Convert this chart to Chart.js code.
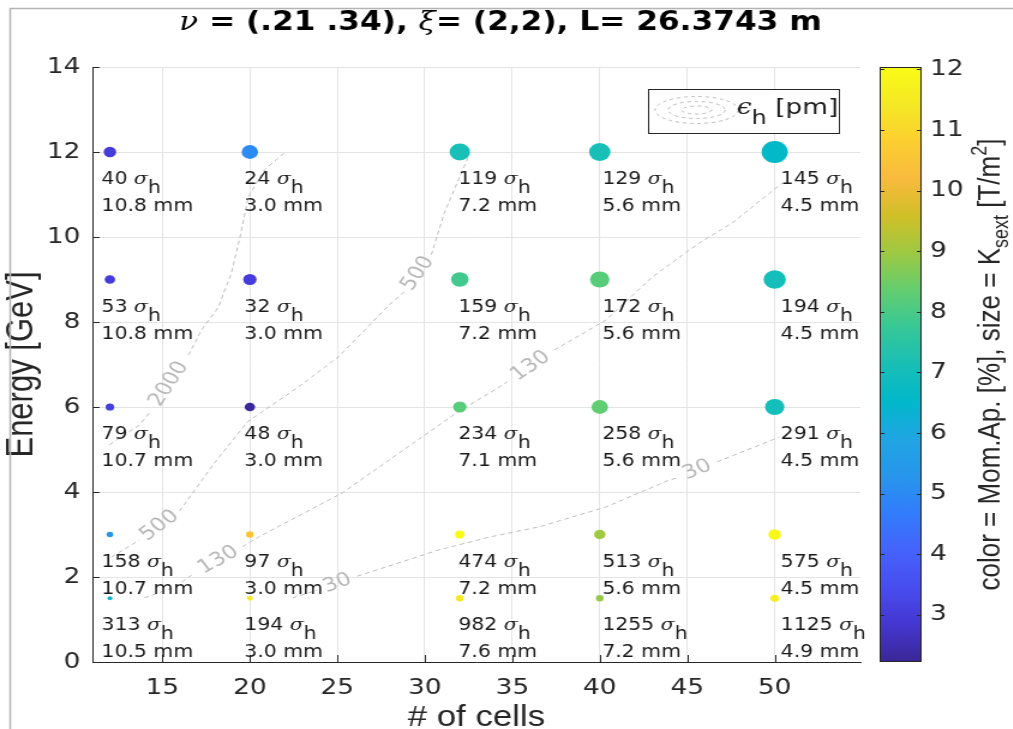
<!DOCTYPE html>
<html>
<head>
<meta charset="utf-8">
<script src="https://cdn.jsdelivr.net/npm/chart.js@4.4.1/dist/chart.umd.min.js"></script>
<style>
  html, body { margin: 0; padding: 0; background: #fff; overflow: hidden; }
  /* the reference figure is stretched sideways, so draw narrow and stretch */
  #wrap { width: 844px; height: 729px; transform: scaleX(1.2); transform-origin: 0 0; }
</style>
</head>
<body>
<div id="wrap"><canvas id="scan_chart"></canvas></div>
<script>
const cells = [12, 20, 32, 40, 50];
const energies = [12, 9, 6, 3, 1.5];

// rows follow energies, columns follow cells
const sigmaH = [
  [40, 24, 119, 129, 145],
  [53, 32, 159, 172, 194],
  [79, 48, 234, 258, 291],
  [158, 97, 474, 513, 575],
  [313, 194, 982, 1255, 1125],
];
const apertureMm = [
  [10.8, 3.0, 7.2, 5.6, 4.5],
  [10.8, 3.0, 7.2, 5.6, 4.5],
  [10.7, 3.0, 7.1, 5.6, 4.5],
  [10.7, 3.0, 7.2, 5.6, 4.5],
  [10.5, 3.0, 7.6, 7.2, 4.9],
];
// momentum aperture [%]
const momAperture = [
  [3.0, 5.0, 7.1, 7.1, 6.6],
  [3.0, 3.0, 7.9, 8.2, 7.0],
  [3.1, 2.3, 8.2, 8.3, 7.0],
  [5.4, 10.5, 12.0, 9.0, 11.9],
  [6.4, 11.4, 11.4, 8.9, 11.6],
];
// sextupole strength, relative (largest = 100)
const kSextRel = [
  [23, 40, 61, 67, 100],
  [16, 26, 45, 55, 73],
  [11, 16, 26, 40, 55],
  [6.6, 8.6, 13, 19, 23],
  [3.4, 4.9, 8.6, 8.6, 11],
];

const xTicks = [15, 20, 25, 30, 35, 40, 45, 50];
const yTicks = [0, 2, 4, 6, 8, 10, 12, 14];
const cbTicks = [3, 4, 5, 6, 7, 8, 9, 10, 11, 12];
const cbRange = [2.22, 12.04];

// emittance contours [pm], [cells, GeV]; null = gap where the level label sits
const contourLevels = [2000, 500, 130, 30];
const contour2000 = [[11.97, 5.11], [13.69, 5.58], [14.26, 5.86], null, [16.49, 7.22], [17.23, 7.81],
  [18.2, 8.35], [18.94, 9.15], [19.4, 9.93], [19.91, 10.94], [20.83, 11.58], [21.97, 11.98]];
const contour500 = [[12.09, 2.47], [13.69, 2.87], null, [15.97, 3.55], [17.97, 4.68], [19.86, 5.65],
  [22.77, 6.47], [25.06, 7.18], [28.09, 8.45], [28.83, 8.71], null, [30.37, 9.58], [31.11, 10.56],
  [32.09, 11.51], [32.54, 11.93]];
const contour130 = [[13.97, 1.51], [15.69, 1.76], [16.83, 2.09], null, [19.57, 2.71], [20.49, 2.94],
  [25.29, 3.98], [28.54, 4.92], [31.8, 5.86], [34.26, 6.47], [34.71, 6.59], null, [37.4, 7.34],
  [40.37, 8.05], [43.0, 9.06], [45.69, 9.86], [47.57, 10.33], [50.43, 11.27]];
const contour30 = [[22.43, 1.51], [23.86, 1.69], null, [26.14, 2.02], [30.83, 2.64], [33.69, 2.94],
  [36.54, 3.18], [40.37, 3.65], [43.97, 4.28], [44.43, 4.33], null, [46.71, 4.71], [50.26, 5.29]];
const contourLines = [contour2000, contour500, contour130, contour30];

const INK = "#262626";
const SANS = '"DejaVu Sans", sans-serif';
const LABEL_FONT = '"Liberation Sans", Arial, sans-serif';

// parula, 17 evenly spaced stops
const parula = [
  [58, 40, 150], [68, 54, 208], [72, 77, 240], [69, 99, 252], [50, 124, 252], [39, 150, 235],
  [32, 165, 227], [1, 184, 202], [25, 191, 182], [55, 200, 151], [100, 205, 111], [157, 201, 67],
  [209, 191, 39], [248, 186, 61], [252, 207, 48], [245, 233, 36], [249, 251, 21],
];

const parulaAt = (v) => {
  let t = (v - cbRange[0]) / (cbRange[1] - cbRange[0]);
  t = Math.min(1, Math.max(0, t));
  const f = t * (parula.length - 1);
  const i = Math.min(parula.length - 2, Math.floor(f));
  const w = f - i;
  const c = parula[i].map((a, k) => Math.round(a + (parula[i + 1][k] - a) * w));
  return `rgb(${c[0]}, ${c[1]}, ${c[2]})`;
};

const points = [];
energies.forEach((e, i) => {
  cells.forEach((n, j) => {
    points.push({ x: n, y: e, mom: momAperture[i][j], k: kSextRel[i][j] });
  });
});

// text offset of each column's annotation, px
const labelDx = [-7, -4.6, -1.2, 2.1, 5];

const drawParts = (ctx, parts, x, y) => {
  let cx = x;
  parts.forEach(([text, font, dy]) => {
    ctx.font = font;
    ctx.fillText(text, cx, y + (dy || 0));
    cx += ctx.measureText(text).width;
  });
  return cx;
};

const partsWidth = (ctx, parts) =>
  parts.reduce((w, [text, font]) => {
    ctx.font = font;
    return w + ctx.measureText(text).width;
  }, 0);

const decor = {
  id: "decor",
  beforeDatasetsDraw(chart) {
    const { ctx, chartArea: a, scales } = chart;
    ctx.save();
    ctx.strokeStyle = INK;
    ctx.lineWidth = 1;
    ctx.beginPath();
    xTicks.forEach((v) => {
      const px = Math.round(scales.x.getPixelForValue(v)) + 0.5;
      ctx.moveTo(px, a.bottom);
      ctx.lineTo(px, a.bottom - 7);
    });
    yTicks.forEach((v) => {
      const py = Math.round(scales.y.getPixelForValue(v)) + 0.5;
      ctx.moveTo(a.left, py);
      ctx.lineTo(a.left + 6, py);
    });
    ctx.stroke();
    ctx.restore();
  },
  afterDatasetsDraw(chart) {
    const { ctx, scales } = chart;
    const { x, y } = scales;
    ctx.save();

    // contour level labels
    ctx.fillStyle = "#b8b8b8";
    ctx.font = `19px ${SANS}`;
    ctx.textAlign = "center";
    ctx.textBaseline = "middle";
    contourLines.forEach((line, c) => {
      line.forEach((p, idx) => {
        if (p !== null) return;
        const p1 = line[idx - 1];
        const p2 = line[idx + 1];
        const x1 = x.getPixelForValue(p1[0]);
        const y1 = y.getPixelForValue(p1[1]);
        const x2 = x.getPixelForValue(p2[0]);
        const y2 = y.getPixelForValue(p2[1]);
        ctx.save();
        ctx.translate((x1 + x2) / 2, (y1 + y2) / 2);
        ctx.rotate(Math.atan2(y2 - y1, x2 - x1));
        ctx.fillText(String(contourLevels[c]), 0, 0);
        ctx.restore();
      });
    });

    // sigma / aperture annotations
    ctx.fillStyle = "#1a1a1a";
    ctx.textAlign = "left";
    ctx.textBaseline = "alphabetic";
    energies.forEach((e, i) => {
      cells.forEach((n, j) => {
        const px = x.getPixelForValue(n) + labelDx[j];
        const py = y.getPixelForValue(e);
        drawParts(ctx, [
          [`${sigmaH[i][j]} `, `17px ${SANS}`],
          ["σ", 'italic 17px "DejaVu Serif", serif'],
          ["h", `17px ${SANS}`, 9],
        ], px, py + 32);
        ctx.font = `17px ${SANS}`;
        ctx.fillText(`${apertureMm[i][j].toFixed(1)} mm`, px, py + 59);
      });
    });
    ctx.restore();
  },
  afterDraw(chart) {
    const { ctx, scales } = chart;
    const cb = scales.cb;
    ctx.save();

    // title
    ctx.fillStyle = "#000";
    ctx.textBaseline = "alphabetic";
    const titleParts = [
      ["ν", 'italic 26px "DejaVu Serif", serif'],
      [" = (.21 .34), ", `bold 26px ${SANS}`],
      ["ξ", 'italic 26px "DejaVu Serif", serif'],
      ["= (2,2), L= 26.3743 m", `bold 26px ${SANS}`],
    ];
    drawParts(ctx, titleParts, 417 - partsWidth(ctx, titleParts) / 2, 30);

    // legend box
    const lx = 540, ly = 89, lw = 159, lh = 44;
    ctx.fillStyle = "#fff";
    ctx.fillRect(lx, ly, lw, lh);
    ctx.strokeStyle = INK;
    ctx.lineWidth = 1;
    ctx.strokeRect(lx + 0.5, ly + 0.5, lw, lh);
    ctx.strokeStyle = "#bdbdbd";
    ctx.setLineDash([3, 3]);
    [[34.6, 13.5], [23.7, 8.5], [12.5, 4]].forEach(([rx, ry]) => {
      ctx.beginPath();
      ctx.ellipse(580.5, 110, rx, ry, 0, 0, Math.PI * 2);
      ctx.stroke();
    });
    ctx.setLineDash([]);
    ctx.fillStyle = "#1a1a1a";
    drawParts(ctx, [
      ["ϵ", 'italic 22px "DejaVu Serif", serif'],
      ["h", `20px ${SANS}`, 10],
      [" [pm]", `22px ${SANS}`],
    ], 614, 114);

    // colour bar
    const bx = 733, bw = 35;
    const grad = ctx.createLinearGradient(0, cb.bottom, 0, cb.top);
    parula.forEach((c, i) => grad.addColorStop(i / (parula.length - 1), `rgb(${c[0]}, ${c[1]}, ${c[2]})`));
    ctx.fillStyle = grad;
    ctx.fillRect(bx, cb.top, bw, cb.bottom - cb.top);
    ctx.strokeStyle = INK;
    ctx.lineWidth = 1;
    ctx.strokeRect(bx + 0.5, cb.top + 0.5, bw - 1, cb.bottom - cb.top - 1);
    ctx.beginPath();
    cbTicks.forEach((v) => {
      const py = Math.round(cb.getPixelForValue(v)) + 0.5;
      ctx.moveTo(bx, py);
      ctx.lineTo(bx + 4, py);
      ctx.moveTo(bx + bw, py);
      ctx.lineTo(bx + bw - 4, py);
    });
    ctx.stroke();

    // colour bar label, reading upwards
    const cbParts = [
      ["color = Mom.Ap. [%], size = K", `26px ${LABEL_FONT}`],
      ["sext", `18px ${LABEL_FONT}`, 7],
      [" [T/m", `26px ${LABEL_FONT}`],
      ["2", `18px ${LABEL_FONT}`, -11],
      ["]", `26px ${LABEL_FONT}`],
    ];
    ctx.fillStyle = INK;
    ctx.translate(833, (cb.top + cb.bottom) / 2);
    ctx.rotate(-Math.PI / 2);
    drawParts(ctx, cbParts, -partsWidth(ctx, cbParts) / 2, 0);
    ctx.restore();

    // outer frame of the screenshot
    ctx.save();
    ctx.strokeStyle = "#b4b4b4";
    ctx.lineWidth = 1.5;
    ctx.beginPath();
    ctx.moveTo(8.5, 729);
    ctx.lineTo(8.5, 8.5);
    ctx.lineTo(844, 8.5);
    ctx.stroke();
    ctx.restore();
  },
};

const pointDataset = {
  data: points,
  pointRadius: points.map((p) => 1.09 * Math.sqrt(p.k)),
  pointHoverRadius: points.map((p) => 1.09 * Math.sqrt(p.k)),
  pointBackgroundColor: points.map((p) => parulaAt(p.mom)),
  pointBorderWidth: 0,
  borderWidth: 0,
};

const contourDatasets = contourLines.map((line) => ({
  data: line.map((p) => (p ? { x: p[0], y: p[1] } : { x: NaN, y: NaN })),
  showLine: true,
  spanGaps: false,
  borderColor: "#bdbdbd",
  borderWidth: 1,
  borderDash: [4, 3],
  pointRadius: 0,
  pointHoverRadius: 0,
}));

const tickFont = { family: SANS, size: 22 };

new Chart(document.getElementById("scan_chart"), {
  type: "scatter",
  data: { datasets: [pointDataset, ...contourDatasets] },
  options: {
    responsive: true,
    maintainAspectRatio: false,
    animation: false,
    devicePixelRatio: 1,
    layout: { padding: { top: 67, left: 0, right: 0, bottom: 0 } },
    plugins: {
      legend: { display: false },
      tooltip: { enabled: false },
      title: { display: false },
    },
    scales: {
      x: {
        type: "linear",
        min: 11,
        max: 54.9,
        afterBuildTicks: (axis) => {
          axis.ticks = xTicks.map((v) => ({ value: v }));
        },
        afterFit: (axis) => {
          axis.height = 67;
        },
        grid: { color: "#e4e4e4", drawTicks: false },
        border: { color: INK },
        ticks: { padding: 13, font: tickFont, color: INK },
        title: {
          display: true,
          text: "# of cells",
          color: INK,
          font: { family: LABEL_FONT, size: 29, lineHeight: 0.75 },
          padding: 0,
        },
      },
      y: {
        type: "linear",
        min: 0,
        max: 14,
        afterBuildTicks: (axis) => {
          axis.ticks = yTicks.map((v) => ({ value: v }));
        },
        afterFit: (axis) => {
          axis.width = 77;
        },
        grid: { color: "#e4e4e4", drawTicks: false },
        border: { color: INK },
        ticks: { padding: 10, font: tickFont, color: INK },
        title: {
          display: true,
          text: "Energy [GeV]",
          color: INK,
          font: { family: LABEL_FONT, size: 31, lineHeight: 1.2 },
          padding: 0,
        },
      },
      cb: {
        type: "linear",
        position: "right",
        min: cbRange[0],
        max: cbRange[1],
        afterBuildTicks: (axis) => {
          axis.ticks = cbTicks.map((v) => ({ value: v }));
        },
        afterFit: (axis) => {
          axis.width = 127;
        },
        // hidden grid, tick length only pushes the labels past the bar
        grid: { display: false, drawTicks: true, tickLength: 55 },
        border: { display: false },
        ticks: { padding: 3, font: tickFont, color: INK },
      },
    },
  },
  plugins: [decor],
});
</script>
</body>
</html>
